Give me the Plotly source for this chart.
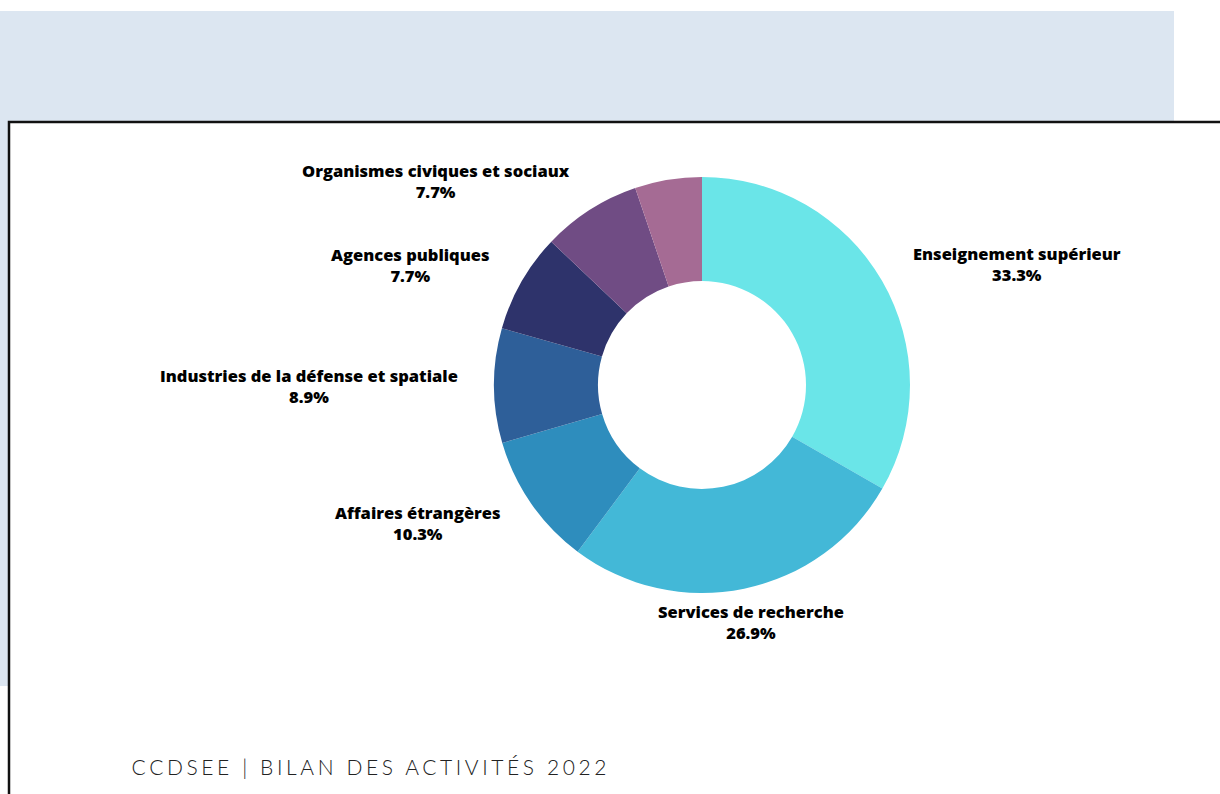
import math
import plotly.graph_objects as go

labels = ["Enseignement supérieur", "Services de recherche", "Affaires étrangères",
          "Industries de la défense et spatiale", "Agences publiques",
          "Organismes civiques et sociaux", ""]
values = [33.3, 26.9, 10.3, 8.9, 7.7, 7.7, 5.2]
colors = ["#6ae5e8", "#43b8d7", "#2e8dbd", "#2e5f99", "#2e336b", "#704c84", "#a56b94"]
footer = "CCDSEE | BILAN DES ACTIVITÉS 2022"

W, H = 1220, 794
cx, cy, R = 702, 385, 208
label_r = 242

def px(x):
    return x / W

def py(y):
    return 1 - y / H

fig = go.Figure()
fig.add_trace(go.Pie(
    labels=[l if l else " " for l in labels], values=values,
    marker=dict(colors=colors, line=dict(width=0)),
    hole=0.5, sort=False, direction="clockwise", rotation=0,
    textinfo="none", hoverinfo="label+percent", showlegend=False,
    domain=dict(x=[px(cx - R), px(cx + R)], y=[py(cy + R), py(cy - R)]),
))

total = sum(values)
annotations = []
cum = 0
for lab, v in zip(labels, values):
    mid = (cum + v / 2) / total * 2 * math.pi
    cum += v
    if not lab:
        continue
    s, c = math.sin(mid), math.cos(mid)
    x = cx + label_r * s
    y = cy - label_r * c
    if s > 0.3:
        xa = "left"
    elif s < -0.3:
        xa = "right"
    else:
        xa = "center"
    annotations.append(dict(
        x=px(x), y=py(y), xref="paper", yref="paper", xanchor=xa, yanchor="middle",
        text=f"{lab}<br>{v / total * 100:.1f}%", showarrow=False, align="center",
        font=dict(family="Open Sans", size=16.5, color="#000000", weight=800),
    ))

annotations.append(dict(
    x=px(371), y=py(766), xref="paper", yref="paper", xanchor="center", yanchor="middle",
    text=footer, showarrow=False,
    font=dict(family="Lato", size=21, color="#222222", weight=300),
))

shapes = [
    dict(type="rect", xref="paper", yref="paper", x0=0, x1=px(1174), y0=py(686), y1=py(11),
         fillcolor="#dce6f1", line=dict(width=0), layer="below"),
    dict(type="rect", xref="paper", yref="paper", x0=px(9), x1=px(1240), y0=py(820), y1=py(122),
         fillcolor="#ffffff", line=dict(color="#111111", width=2.5), layer="below"),
]

fig.update_layout(
    width=W, height=H, margin=dict(l=0, r=0, t=0, b=0),
    paper_bgcolor="#ffffff", plot_bgcolor="#ffffff",
    annotations=annotations, shapes=shapes,
)

post = """
document.body.style.margin = '0';
document.body.style.overflow = 'hidden';
var t = document.querySelectorAll('.annotation-text');
if (t.length) { t[t.length - 1].style.letterSpacing = '3.6px'; }
"""
fig.write_html("out.html", post_script=post, config={"displayModeBar": False})
